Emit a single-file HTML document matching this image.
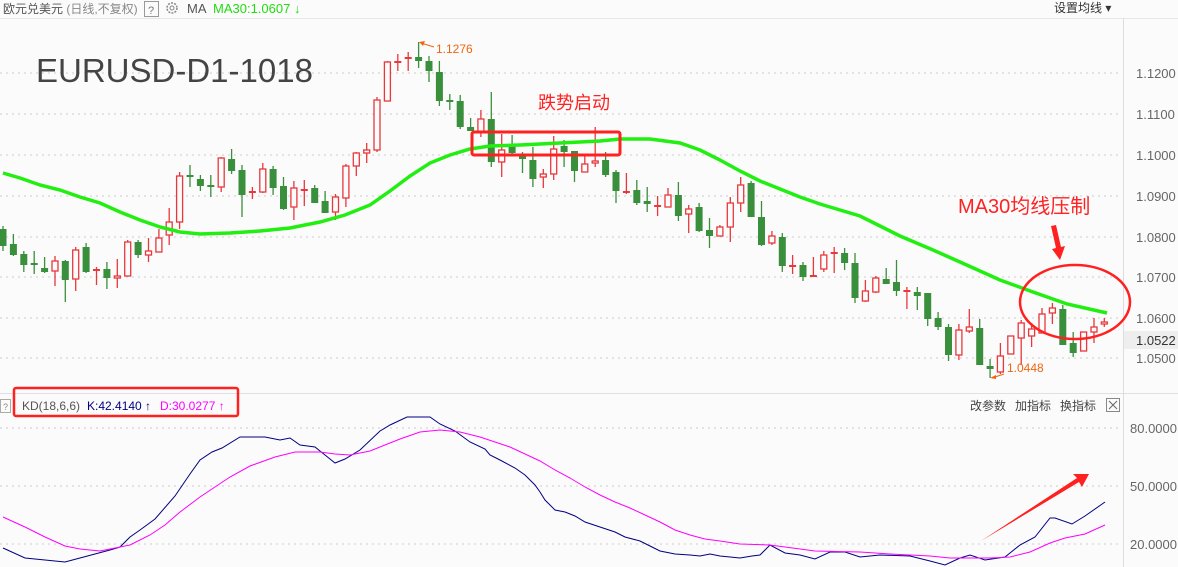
<!DOCTYPE html>
<html><head><meta charset="utf-8"><style>
html,body{margin:0;padding:0;background:#fbfbfb;}
body{width:1178px;height:567px;overflow:hidden;font-family:"Liberation Sans","Noto Sans CJK SC",sans-serif;}
</style></head><body>
<svg id="s" width="1178" height="567" xmlns="http://www.w3.org/2000/svg" style="display:block">
<rect width="1178" height="567" fill="#fbfbfb"/>
<g stroke="#ccc" stroke-dasharray="2,4" stroke-width="1">
<line x1="0" y1="73" x2="1122" y2="73"/><line x1="0" y1="114" x2="1122" y2="114"/>
<line x1="0" y1="155" x2="1122" y2="155"/><line x1="0" y1="196" x2="1122" y2="196"/>
<line x1="0" y1="237" x2="1122" y2="237"/><line x1="0" y1="277" x2="1122" y2="277"/>
<line x1="0" y1="318" x2="1122" y2="318"/><line x1="0" y1="358" x2="1122" y2="358"/>
<line x1="0" y1="428" x2="1122" y2="428"/><line x1="0" y1="486" x2="1122" y2="486"/>
<line x1="0" y1="544" x2="1122" y2="544"/>
</g>
<line x1="0" y1="18.5" x2="1178" y2="18.5" stroke="#e6e6e6"/>
<line x1="0" y1="393.5" x2="1178" y2="393.5" stroke="#e0e0e0"/>
<line x1="1123.5" y1="18" x2="1123.5" y2="567" stroke="#ddd"/>
<g font-size="13" fill="#666">
<text x="1136" y="78">1.1200</text><text x="1136" y="119">1.1100</text>
<text x="1136" y="160">1.1000</text><text x="1136" y="201">1.0900</text>
<text x="1136" y="242">1.0800</text><text x="1136" y="282">1.0700</text>
<text x="1136" y="323">1.0600</text><text x="1136" y="363">1.0500</text>
<text x="1130" y="433">80.0000</text><text x="1130" y="491">50.0000</text><text x="1130" y="549">20.0000</text>
</g>
<rect x="1124" y="331" width="54" height="18" fill="#eee"/>
<text x="1136" y="345" font-size="13" fill="#333">1.0522</text>
<g id="c"></g>
<polyline fill="none" stroke="#22ee11" stroke-width="3.5" points="3,173 20,178 40,185 60,190 80,197 100,203 120,212 140,220 160,227 180,232 200,234 230,233 260,231 290,228 320,222 345,215 370,205 390,191 410,176 430,163 450,155 470,149 490,146 520,145 560,143 600,141 620,139 650,139 680,143 700,150 720,160 740,171 760,181 780,189 800,197 820,204 840,210 860,216 880,226 900,236 933,250 960,262 1000,280 1033,292 1067,304 1107,313"/>
<polyline fill="none" stroke="#000080" stroke-width="1" points="3,548 25,558 45,560 65,562 80,558 110,550 120,547 130,537 140,530 155,519 175,496 190,474 200,460 212,452 222,448 240,437 265,437 280,440 290,438 300,445 315,447 330,459 335,463 345,459 360,450 380,431 390,425 407,417 430,417 440,424 455,431 470,442 485,449 490,455 500,460 515,468 525,475 535,485 540,492 545,500 555,510 565,512 575,516 585,522 600,527 615,532 625,537 640,541 650,546 660,551 675,554 690,555 700,556 710,554 720,556 730,557 740,558 752,556 760,555 770,545 785,553 800,555 815,559 830,552 845,552 860,557 880,555 910,556 930,561 945,565 960,558 970,555 985,560 1005,557 1020,545 1035,537 1050,518 1055,518 1072,524 1085,516 1105,502"/>
<polyline fill="none" stroke="#ff00ff" stroke-width="1" points="3,517 25,527 45,537 65,546 80,549 100,551 115,548 130,545 150,535 165,525 180,512 200,497 230,477 250,466 275,457 295,452 320,452 335,454 350,455 370,451 380,447 400,439 420,432 440,430 460,432 480,437 495,442 510,447 525,454 540,461 555,470 570,478 585,487 600,495 615,502 630,508 645,515 660,522 675,530 690,535 705,539 720,541 740,544 770,545 800,549 815,551 860,552 890,554 930,556 950,558 990,558 1010,557 1030,552 1050,543 1065,538 1085,534 1105,525"/>
<!-- header -->
<text x="3" y="13" font-size="12" fill="#555">欧元兑美元 <tspan fill="#888">(日线,不复权)</tspan></text>
<rect x="144.5" y="1.5" width="14" height="15" fill="none" stroke="#999"/>
<text x="148" y="14" font-size="11" fill="#777">?</text>
<circle cx="172" cy="8" r="5" fill="none" stroke="#888" stroke-width="1.5" stroke-dasharray="2,1.2"/>
<circle cx="172" cy="8" r="2" fill="none" stroke="#888"/>
<text x="187" y="13" font-size="13" fill="#555">MA</text>
<text x="213" y="13" font-size="13" fill="#22dd11">MA30:1.0607 ↓</text>
<text x="1054" y="12" font-size="12" fill="#333">设置均线 ▾</text>
<!-- annotations -->
<text x="36" y="82" font-size="33" fill="#444">EURUSD-D1-1018</text>
<text x="538" y="109" font-size="18" fill="#ff2222">跌势启动</text>
<rect x="472" y="132" width="148" height="23" rx="2" fill="none" stroke="#ff2020" stroke-width="3"/>
<text x="958" y="213" font-size="20" fill="#ff2222">MA30均线压制</text>
<polygon points="1051,226 1056,225 1061,247 1065,246 1060,260 1052,249 1056,248" fill="#ff2020"/>
<ellipse cx="1075" cy="302" rx="55" ry="37" fill="none" stroke="#ff2020" stroke-width="2.5"/>
<polygon points="981,541 1077,478 1073,474 1089,474 1082,487 1079,482" fill="#ff2020"/>
<text x="436" y="53" font-size="12" fill="#ee6611">1.1276</text>
<path d="M421,43 L434,47" stroke="#ee6611" fill="none"/><path d="M419,42 l6,-1 l-2,5z" fill="#ee6611"/>
<text x="1007" y="372" font-size="12" fill="#ee6611">1.0448</text>
<path d="M992,378 L1004,374" stroke="#ee6611" fill="none"/><path d="M990,378 l6,-3 l0,4z" fill="#ee6611"/>
<!-- KD header -->
<rect x="0.5" y="399.5" width="10" height="13" fill="none" stroke="#aaa"/>
<text x="3" y="410" font-size="9" fill="#888">?</text>
<text x="22" y="410" font-size="12" fill="#555">KD(18,6,6)</text>
<text x="87" y="410" font-size="12" fill="#000080">K:42.4140 ↑</text>
<text x="160" y="410" font-size="12" fill="#ff00ff">D:30.0277 ↑</text>
<rect x="14" y="388" width="224" height="28" rx="2" fill="none" stroke="#ff2020" stroke-width="2.5"/>
<text x="970" y="410" font-size="12" fill="#444">改参数</text>
<text x="1015" y="410" font-size="12" fill="#444">加指标</text>
<text x="1060" y="410" font-size="12" fill="#444">换指标</text>
<rect x="1106.5" y="398.5" width="13" height="13" fill="none" stroke="#888"/>
<path d="M1109,401 l8,8 M1117,401 l-8,8" stroke="#666"/>
</svg>
<script>
var d=[
['g',229,246,226,251],['g',244,255,234,256],['g',254,265,251,272],['g',264,264,251,274],['g',268,272,257,273],
['r',261,271,256,286],['g',261,280,260,302],['r',250,279,247,291],['g',247,272,243,273],['r',270,270,267,285],
['g',269,278,262,289],['r',276,278,259,288],['r',242,276,240,276],['g',242,255,240,258],['r',251,255,238,262],
['r',238,252,229,252],['r',222,235,208,245],['r',176,222,172,229],['g',176,176,165,187],['g',179,186,175,191],
['g',186,186,175,197],['r',158,187,157,192],['g',159,171,149,174],['g',170,195,165,217],['r',192,192,187,199],
['r',169,192,163,193],['g',169,188,166,195],['g',186,209,177,210],['r',188,207,181,220],['r',190,190,180,206],
['g',188,203,185,203],['g',201,213,191,213],['r',197,212,194,220],['r',166,198,164,207],['r',153,166,152,176],
['r',150,153,143,163],['r',100,150,97,152],['r',62,101,61,101],['r',62,62,54,71],['r',58,58,52,71],
['g',57,61,42,68],['g',61,71,56,82],['g',72,101,61,106],['g',100,102,94,110],['g',101,127,95,129],
['g',127,131,118,131],['r',119,132,110,137],['g',119,162,92,167],['r',150,162,134,177],['g',144,153,135,154],
['g',155,159,152,173],['g',160,179,147,187],['r',174,177,169,188],['r',149,174,136,180],['g',146,152,140,167],
['g',151,171,151,182],['r',164,172,155,172],['r',161,163,127,167],['g',160,175,152,177],['g',172,191,170,203],
['r',192,192,173,194],['g',190,203,180,205],['g',201,204,187,212],['r',206,206,196,216],['r',195,207,188,207],
['g',195,216,182,221],['r',209,214,205,233],['g',207,231,203,232],['g',230,236,218,248],['r',227,236,225,236],
['r',203,227,197,242],['r',185,203,177,212],['g',183,217,181,217],['g',217,245,201,246],['r',236,243,231,245],
['g',237,266,233,272],['r',266,266,255,274],['g',265,277,262,281],['r',276,276,257,277],['r',255,269,251,272],
['r',253,253,247,273],['g',253,263,248,270],['g',263,298,253,303],['r',291,301,280,302],['r',278,292,276,293],
['g',279,284,268,284],['g',282,291,260,296],['r',291,291,287,309],['g',292,296,287,310],['g',293,319,293,326],
['g',318,327,312,330],['g',327,355,324,361],['r',330,355,324,360],['r',327,331,309,333],['g',328,365,319,365],
['g',366,369,359,378],['r',356,372,343,374],['r',336,354,336,354],['r',323,338,320,365],['r',329,336,323,347],
['r',314,333,308,333],['r',308,313,303,324],['g',309,345,305,345],['g',343,353,332,357],['r',332,351,332,351],
['r',327,332,318,343],['r',322,324,318,327]];
var h='';
for(var i=0;i<d.length;i++){var c=d[i],x=3+10.39*i,col=c[0]=='g'?'#3a8f3c':'#e8383c';
h+='<line x1="'+x.toFixed(1)+'" y1="'+c[3]+'" x2="'+x.toFixed(1)+'" y2="'+c[4]+'" stroke="'+col+'" stroke-width="1.3"/>';
var hh=c[2]-c[1];
if(hh<2){h+='<rect x="'+(x-3.5).toFixed(1)+'" y="'+(c[1]-1)+'" width="7" height="2" fill="'+col+'"/>';}
else if(c[0]=='g'){h+='<rect x="'+(x-3.5).toFixed(1)+'" y="'+c[1]+'" width="7" height="'+hh+'" fill="'+col+'"/>';}
else{h+='<rect x="'+(x-3).toFixed(1)+'" y="'+c[1]+'" width="6" height="'+hh+'" fill="#fbfbfb" stroke="'+col+'" stroke-width="1.3"/>';}
}
document.getElementById('c').innerHTML=h;
</script>
</body></html>
